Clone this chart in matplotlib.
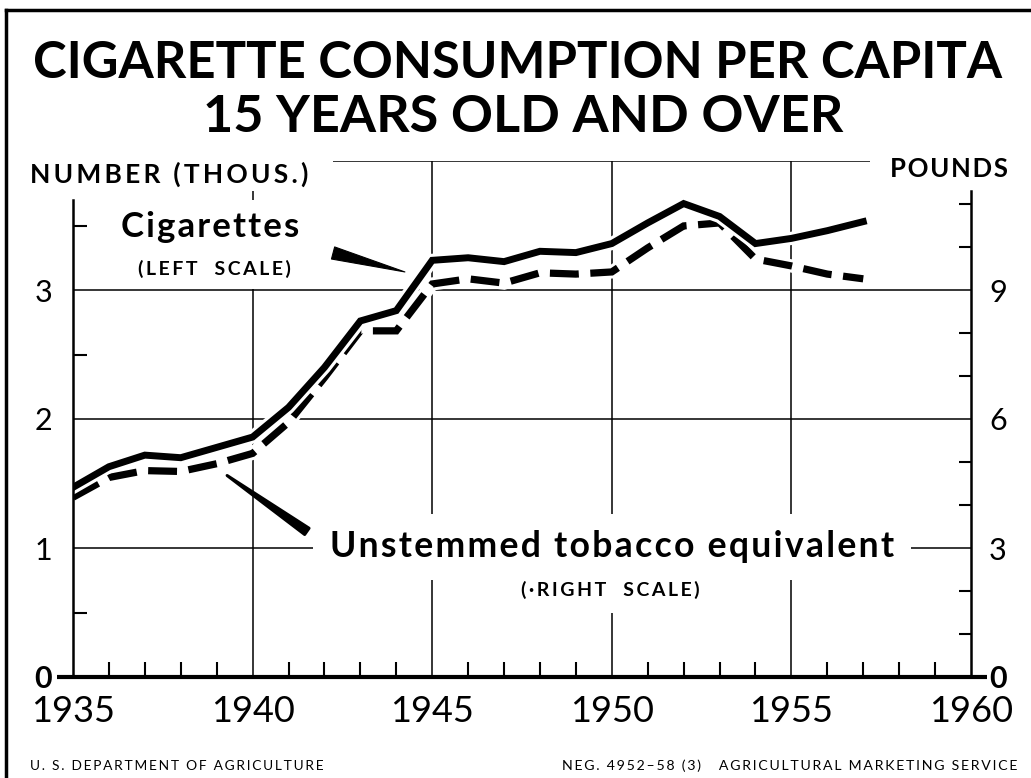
import matplotlib
matplotlib.use('Agg')
import matplotlib.pyplot as plt
from matplotlib.lines import Line2D

plt.rcParams['font.family'] = ['Lato', 'DejaVu Sans']

# data
years = list(range(1935, 1958))
cigarettes_thous = [1.47, 1.63, 1.72, 1.70, 1.78, 1.86, 2.09, 2.40, 2.76, 2.84,
                    3.23, 3.25, 3.22, 3.30, 3.29, 3.36, 3.52, 3.67, 3.57, 3.36,
                    3.40, 3.46, 3.53]
tobacco_lb = [4.18, 4.64, 4.80, 4.78, 4.96, 5.20, 5.92, 6.96, 8.05, 8.05,
              9.14, 9.26, 9.16, 9.40, 9.37, 9.42, 9.98, 10.49, 10.56, 9.72,
              9.56, 9.37, 9.26]

x_labels = [1935, 1940, 1945, 1950, 1955, 1960]
left_ticks = [0, 1, 2, 3]
right_ticks = [0, 3, 6, 9]

W, H = 1031, 778
HAIR = '\u200a'
THIN = '\u2009'


def spaced(s, sep=HAIR):
    # crude letter spacing
    return sep.join(s)


fig = plt.figure(figsize=(W / 100, H / 100), dpi=100)
ax = fig.add_axes([73 / W, 101 / H, 898 / W, 516 / H])
ax2 = ax.twinx()
ax.set_xlim(1935, 1960)
ax.set_ylim(0, 4)
ax2.set_ylim(0, 12)
ax.set_zorder(ax2.get_zorder() + 1)
ax.patch.set_visible(False)

# spines
for s in ['top', 'right']:
    ax.spines[s].set_visible(False)
for s in ['top', 'left', 'bottom']:
    ax2.spines[s].set_visible(False)
ax.spines['left'].set_bounds(0, 3.7)
ax.spines['left'].set_linewidth(1.8)
ax2.spines['right'].set_bounds(0, 11.3)
ax2.spines['right'].set_linewidth(1.8)
ax.spines['bottom'].set_bounds(1934.55, 1960.45)
ax.spines['bottom'].set_linewidth(3)
ax.spines['bottom'].set_capstyle('butt')

# grid (on the back axes so the white halos of the curves cut it)
ax2.hlines([3, 6, 9], 1935, 1960, color='k', lw=1.1, zorder=1)
ax2.vlines([1945, 1950, 1955], 0, 12, color='k', lw=1.1, zorder=1)
ax2.vlines(1940, 0, 11.3, color='k', lw=1.1, zorder=1)
ax2.hlines(12, 1942.24, 1957.2, color='k', lw=1.1, zorder=1)

# ticks
ax.set_xticks(x_labels, labels=[str(v) for v in x_labels])
ax.set_xticks([y for y in range(1936, 1960) if y % 5], minor=True)
ax.tick_params(axis='x', which='major', length=0, pad=13, labelsize=26)
ax.tick_params(axis='x', which='minor', direction='in', length=11, width=1.5)

ax.set_yticks(left_ticks, labels=[str(v) for v in left_ticks])
ax.set_yticks([0.5, 1.5, 2.5, 3.5], minor=True)
ax.tick_params(axis='y', which='major', length=0, pad=15, labelsize=22)
ax.tick_params(axis='y', which='minor', direction='in', length=10, width=1.5)
ax.get_yticklabels()[0].set_fontweight('bold')

ax2.set_yticks(right_ticks, labels=[str(v) for v in right_ticks])
ax2.set_yticks([1, 2, 4, 5, 7, 8, 10, 11], minor=True)
ax2.tick_params(axis='y', which='major', length=0, pad=13, labelsize=22)
ax2.tick_params(axis='y', which='minor', direction='in', length=9, width=1.5)
ax2.get_yticklabels()[0].set_fontweight('bold')

# curves with white halo
ax2.plot(years, tobacco_lb, color='white', lw=9.5, zorder=2, solid_joinstyle='miter')
ax2.plot(years, tobacco_lb, color='black', lw=5.2, zorder=3, linestyle=(0, (4, 1.6)),
         dash_capstyle='butt', dash_joinstyle='miter')
ax.plot(years, cigarettes_thous, color='white', lw=9.5, zorder=2, solid_joinstyle='miter')
ax.plot(years, cigarettes_thous, color='black', lw=5, zorder=3, solid_joinstyle='miter')

# labels inside the plot
box = dict(fc='white', ec='none', pad=8)
ax.text(1938.81, 3.41, spaced('Cigarettes'), fontsize=25, fontweight='bold', ha='center',
        va='baseline', bbox=box, zorder=4)
ax.text(1938.93, 3.117, spaced('(LEFT  SCALE)', THIN), fontsize=14, fontweight='bold',
        ha='center', va='baseline', bbox=box, zorder=4)
ax.text(1950.0, 0.928, spaced('Unstemmed tobacco equivalent'), fontsize=25.7,
        fontweight='bold', ha='center', va='baseline',
        bbox=dict(fc='white', ec='none', pad=12), zorder=4)
ax.text(1949.95, 0.626, spaced('(\u00b7RIGHT  SCALE)', THIN), fontsize=14,
        fontweight='bold', ha='center', va='baseline',
        bbox=dict(fc='white', ec='none', pad=10), zorder=4)

# pointers
ax.annotate('', xy=(1944.24, 3.14), xytext=(1942.24, 3.287),
            arrowprops=dict(arrowstyle='wedge,tail_width=0.9', fc='k', ec='k', lw=0.8,
                            shrinkA=0, shrinkB=0, mutation_scale=10), zorder=5)
ax.annotate('', xy=(1939.29, 1.562), xytext=(1941.51, 1.129),
            arrowprops=dict(arrowstyle='wedge,tail_width=0.55', fc='k', ec='k', lw=2.2,
                            shrinkA=0, shrinkB=0, mutation_scale=10), zorder=5)

# titles and axis headings
fig.text(518 / W, 1 - 78 / H, 'CIGARETTE CONSUMPTION PER CAPITA', fontsize=36.5,
         fontweight='bold', ha='center', va='baseline')
fig.text(523 / W, 1 - 132 / H, '15 YEARS OLD AND OVER', fontsize=37.5,
         fontweight='bold', ha='center', va='baseline')
fig.text(30 / W, 1 - 183 / H, spaced('NUMBER (THOUS.)', THIN), fontsize=19,
         fontweight='bold', ha='left', va='baseline')
fig.text(1008 / W, 1 - 177 / H, spaced('POUNDS'), fontsize=18.5,
         fontweight='bold', ha='right', va='baseline')

# footer
fig.text(30 / W, 1 - 770 / H, spaced('U. S. DEPARTMENT OF AGRICULTURE', THIN),
         fontsize=9.9, ha='left', va='baseline')
fig.text(1017 / W, 1 - 770 / H,
         spaced('NEG. 4952\u201358 (3)   AGRICULTURAL MARKETING SERVICE', THIN),
         fontsize=10.2, ha='right', va='baseline')

# frame around the sheet
fig.add_artist(Line2D([6 / W, 1], [1 - 10 / H, 1 - 10 / H], color='k', lw=2.5))
fig.add_artist(Line2D([6 / W, 6 / W], [0, 1 - 10 / H], color='k', lw=2.5))

fig.savefig('out.png', dpi=100)
